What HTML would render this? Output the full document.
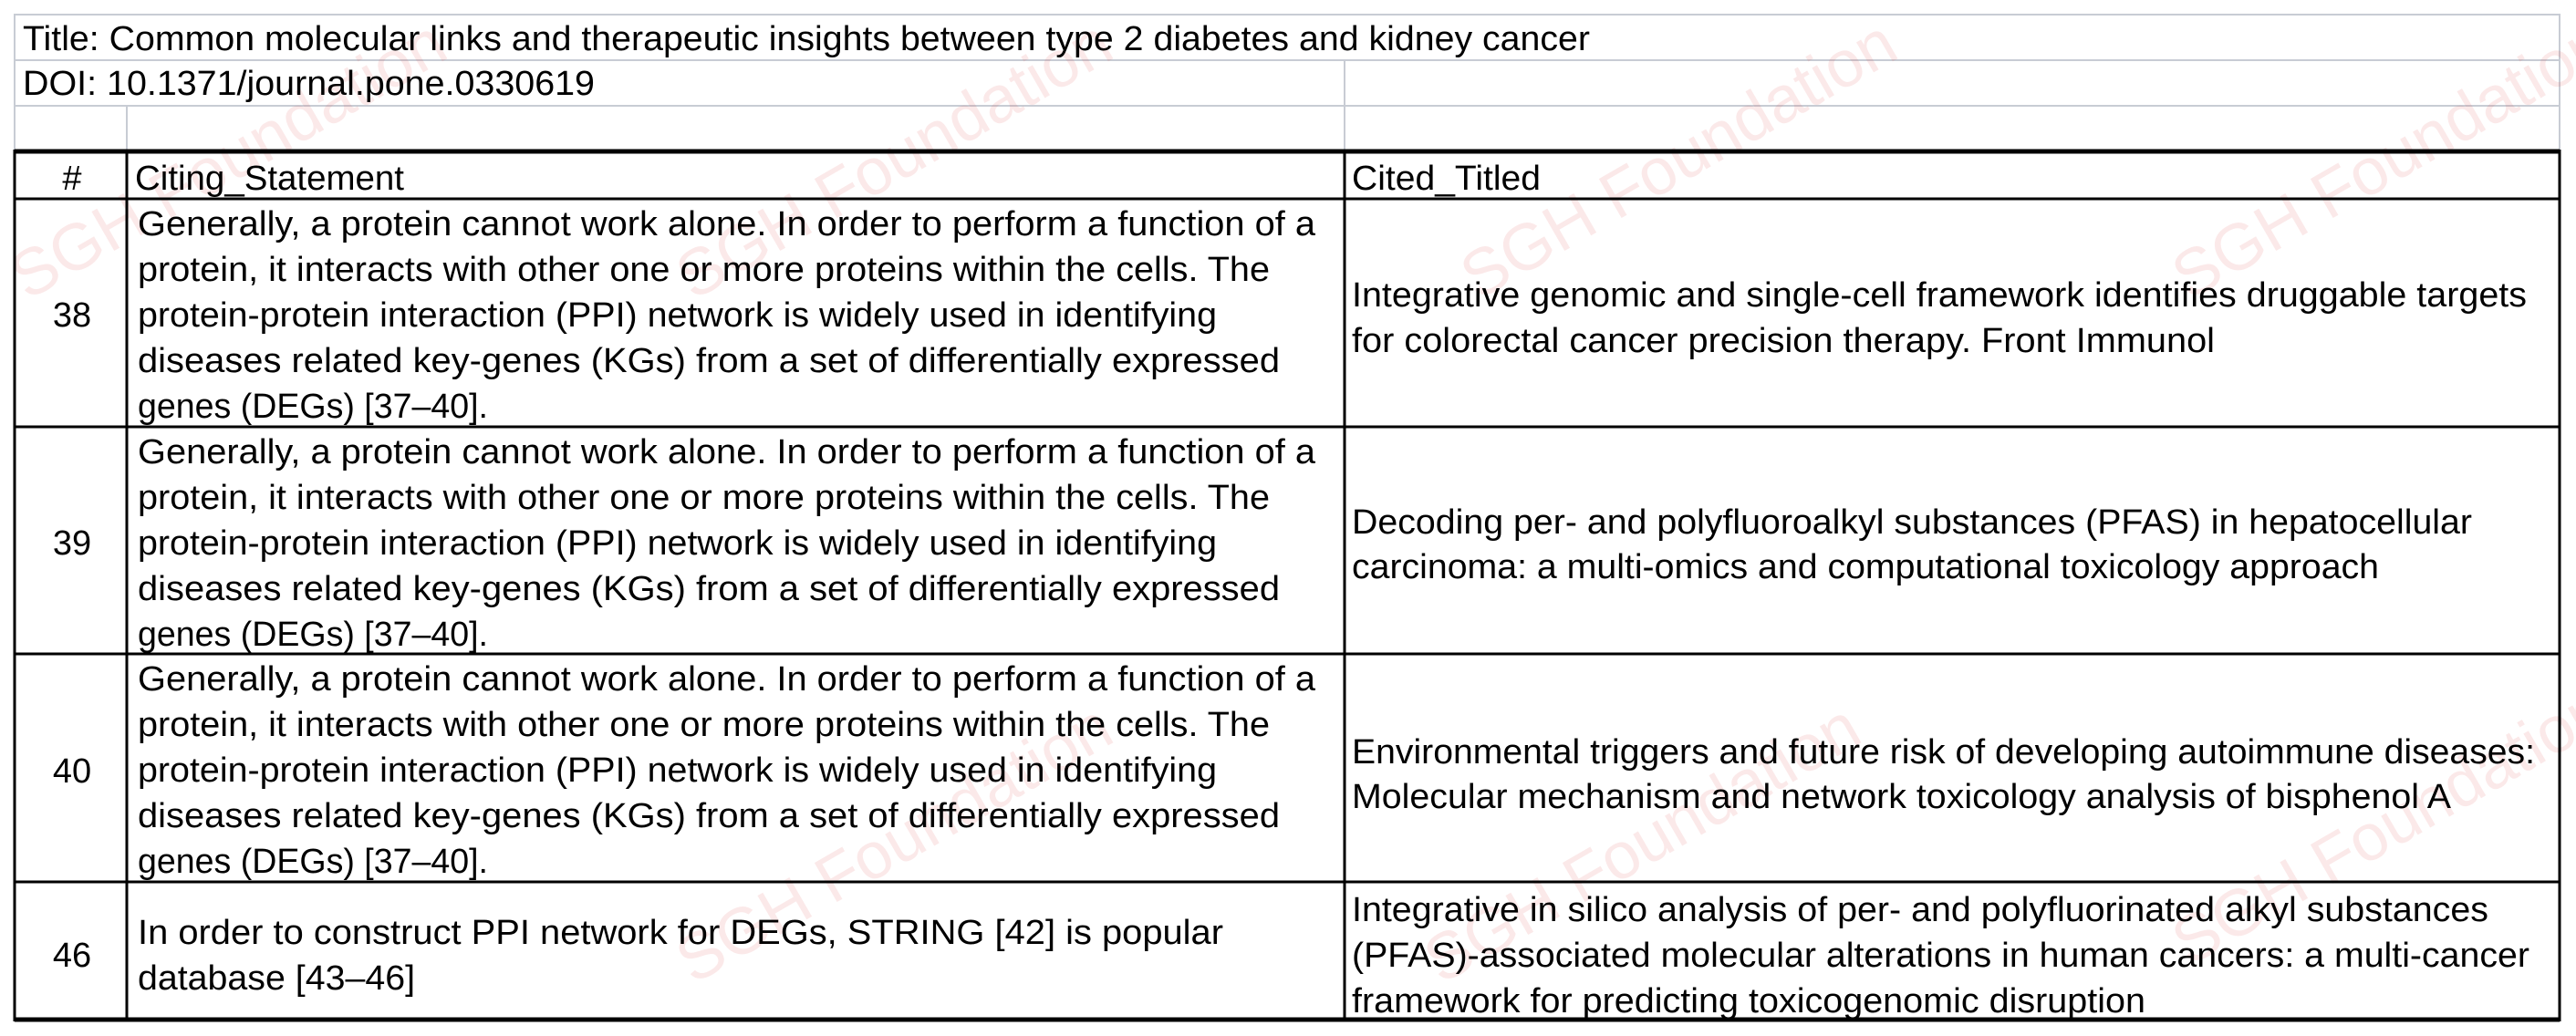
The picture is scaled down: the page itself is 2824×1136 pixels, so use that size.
<!DOCTYPE html>
<html><head><meta charset="utf-8"><style>
html,body{margin:0;padding:0;background:#fff;width:2824px;height:1136px;overflow:hidden}
svg text{font-family:"Liberation Sans",Arial,sans-serif;font-size:38px;fill:#000}
svg text.wm{font-size:72px;fill:#e05050;opacity:0.12}
</style></head><body>
<svg width="2824" height="1136" viewBox="0 0 2824 1136" xmlns="http://www.w3.org/2000/svg">
<rect width="2824" height="1136" fill="#fff"/>
<g stroke="#c8ccd4" stroke-width="2" fill="none">
<rect x="16" y="16" width="2790" height="150"/>
<line x1="16" y1="66" x2="2806" y2="66"/>
<line x1="16" y1="116" x2="2806" y2="116"/>
<line x1="1474" y1="66" x2="1474" y2="166"/>
<line x1="139" y1="116" x2="139" y2="166"/>
</g>
<g>
<text class="wm" transform="translate(30,330) rotate(-30)">SGH Foundation</text>
<text class="wm" transform="translate(760,1080) rotate(-30)">SGH Foundation</text>
<text class="wm" transform="translate(1620,330) rotate(-30)">SGH Foundation</text>
<text class="wm" transform="translate(2400,330) rotate(-30)">SGH Foundation</text>
<text class="wm" transform="translate(1580,1080) rotate(-30)">SGH Foundation</text>
<text class="wm" transform="translate(2400,1060) rotate(-30)">SGH Foundation</text>
<text class="wm" transform="translate(760,330) rotate(-30)">SGH Foundation</text>
</g>
<g stroke="#000" fill="none">
<line x1="16" y1="166" x2="2806" y2="166" stroke-width="5"/>
<line x1="16" y1="1118" x2="2806" y2="1118" stroke-width="5"/>
<line x1="16" y1="164" x2="16" y2="1120" stroke-width="3"/>
<line x1="2806" y1="164" x2="2806" y2="1120" stroke-width="3"/>
<line x1="139" y1="166" x2="139" y2="1118" stroke-width="3"/>
<line x1="1474" y1="166" x2="1474" y2="1118" stroke-width="3"/>
<line x1="16" y1="218" x2="2806" y2="218" stroke-width="3"/>
<line x1="16" y1="468" x2="2806" y2="468" stroke-width="3"/>
<line x1="16" y1="717" x2="2806" y2="717" stroke-width="3"/>
<line x1="16" y1="967" x2="2806" y2="967" stroke-width="3"/>
</g>
<text x="25" y="55" textLength="1718" lengthAdjust="spacingAndGlyphs">Title: Common molecular links and therapeutic insights between type 2 diabetes and kidney cancer</text>
<text x="25" y="104" textLength="627" lengthAdjust="spacingAndGlyphs">DOI: 10.1371/journal.pone.0330619</text>
<text x="79" y="208" text-anchor="middle">#</text>
<text x="148" y="208" textLength="295" lengthAdjust="spacingAndGlyphs">Citing_Statement</text>
<text x="1482" y="208" textLength="207" lengthAdjust="spacingAndGlyphs">Cited_Titled</text>

<text x="79" y="358" text-anchor="middle">38</text>
<text x="79" y="608" text-anchor="middle">39</text>
<text x="79" y="858" text-anchor="middle">40</text>
<text x="79" y="1060" text-anchor="middle">46</text>

<g>
<text x="151" y="258" textLength="1291" lengthAdjust="spacingAndGlyphs">Generally, a protein cannot work alone. In order to perform a function of a</text>
<text x="151" y="308" textLength="1241" lengthAdjust="spacingAndGlyphs">protein, it interacts with other one or more proteins within the cells. The</text>
<text x="151" y="358" textLength="1183" lengthAdjust="spacingAndGlyphs">protein-protein interaction (PPI) network is widely used in identifying</text>
<text x="151" y="408" textLength="1252" lengthAdjust="spacingAndGlyphs">diseases related key-genes (KGs) from a set of differentially expressed</text>
<text x="151" y="458" textLength="384" lengthAdjust="spacingAndGlyphs">genes (DEGs) [37–40].</text>
</g>
<g>
<text x="151" y="508" textLength="1291" lengthAdjust="spacingAndGlyphs">Generally, a protein cannot work alone. In order to perform a function of a</text>
<text x="151" y="558" textLength="1241" lengthAdjust="spacingAndGlyphs">protein, it interacts with other one or more proteins within the cells. The</text>
<text x="151" y="608" textLength="1183" lengthAdjust="spacingAndGlyphs">protein-protein interaction (PPI) network is widely used in identifying</text>
<text x="151" y="658" textLength="1252" lengthAdjust="spacingAndGlyphs">diseases related key-genes (KGs) from a set of differentially expressed</text>
<text x="151" y="708" textLength="384" lengthAdjust="spacingAndGlyphs">genes (DEGs) [37–40].</text>
</g>
<g>
<text x="151" y="757" textLength="1291" lengthAdjust="spacingAndGlyphs">Generally, a protein cannot work alone. In order to perform a function of a</text>
<text x="151" y="807" textLength="1241" lengthAdjust="spacingAndGlyphs">protein, it interacts with other one or more proteins within the cells. The</text>
<text x="151" y="857" textLength="1183" lengthAdjust="spacingAndGlyphs">protein-protein interaction (PPI) network is widely used in identifying</text>
<text x="151" y="907" textLength="1252" lengthAdjust="spacingAndGlyphs">diseases related key-genes (KGs) from a set of differentially expressed</text>
<text x="151" y="957" textLength="384" lengthAdjust="spacingAndGlyphs">genes (DEGs) [37–40].</text>
</g>
<text x="151" y="1035" textLength="1190" lengthAdjust="spacingAndGlyphs">In order to construct PPI network for DEGs, STRING [42] is popular</text>
<text x="151" y="1085" textLength="304" lengthAdjust="spacingAndGlyphs">database [43–46]</text>

<text x="1482" y="336" textLength="1288" lengthAdjust="spacingAndGlyphs">Integrative genomic and single-cell framework identifies druggable targets</text>
<text x="1482" y="386" textLength="946" lengthAdjust="spacingAndGlyphs">for colorectal cancer precision therapy. Front Immunol</text>
<text x="1482" y="585" textLength="1228" lengthAdjust="spacingAndGlyphs">Decoding per- and polyfluoroalkyl substances (PFAS) in hepatocellular</text>
<text x="1482" y="634" textLength="1126" lengthAdjust="spacingAndGlyphs">carcinoma: a multi-omics and computational toxicology approach</text>
<text x="1482" y="837" textLength="1297" lengthAdjust="spacingAndGlyphs">Environmental triggers and future risk of developing autoimmune diseases:</text>
<text x="1482" y="886" textLength="1205" lengthAdjust="spacingAndGlyphs">Molecular mechanism and network toxicology analysis of bisphenol A</text>
<text x="1482" y="1010" textLength="1246" lengthAdjust="spacingAndGlyphs">Integrative in silico analysis of per- and polyfluorinated alkyl substances</text>
<text x="1482" y="1060" textLength="1291" lengthAdjust="spacingAndGlyphs">(PFAS)-associated molecular alterations in human cancers: a multi-cancer</text>
<text x="1482" y="1110" textLength="870" lengthAdjust="spacingAndGlyphs">framework for predicting toxicogenomic disruption</text>
</svg>
</body></html>
